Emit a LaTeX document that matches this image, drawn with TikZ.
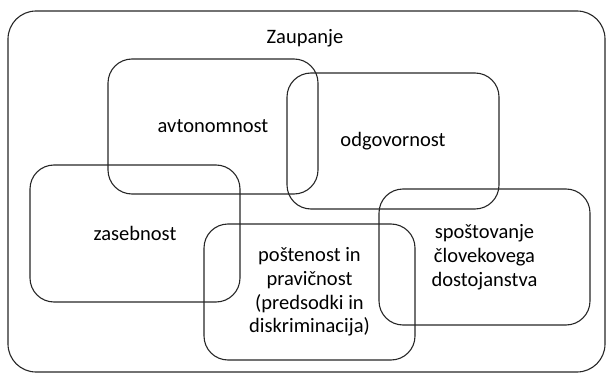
\documentclass[tikz,border=0pt]{standalone}
\usepackage{fontspec}
\setmainfont{Carlito}
\begin{document}
\begin{tikzpicture}[x=1pt,y=-1pt,
  area/.style={draw=black!85, line width=1.1pt, rounded corners=24pt, align=center,
    font=\fontsize{20.5}{23.8}\selectfont, inner sep=0pt},
  label/.style={font=\fontsize{20.5}{23.8}\selectfont, inner sep=0pt}]
\useasboundingbox (0,0) rectangle (607,374);
% outer trust region
\draw[draw=black!85, line width=1.1pt, rounded corners=28pt] (8,11) rectangle (605,372);
\node[label] (trust) at (305,38) {Zaupanje};
% overlapping value areas
\node[area, minimum width=210pt, minimum height=135pt] (auto) at (213,126.5) {avtonomnost};
\node[area, minimum width=212pt, minimum height=136pt] (resp) at (393,141) {odgovornost};
\node[area, minimum width=210pt, minimum height=137pt] (priv) at (135,233.5) {zasebnost};
\node[area, minimum width=211pt, minimum height=136pt] (fair) at (309.5,292) {poštenost in\\pravičnost\\(predsodki in\\diskriminacija)};
\node[area, minimum width=211pt, minimum height=136pt] (dign) at (484.5,257) {spoštovanje\\človekovega\\dostojanstva};
\end{tikzpicture}
\end{document}
